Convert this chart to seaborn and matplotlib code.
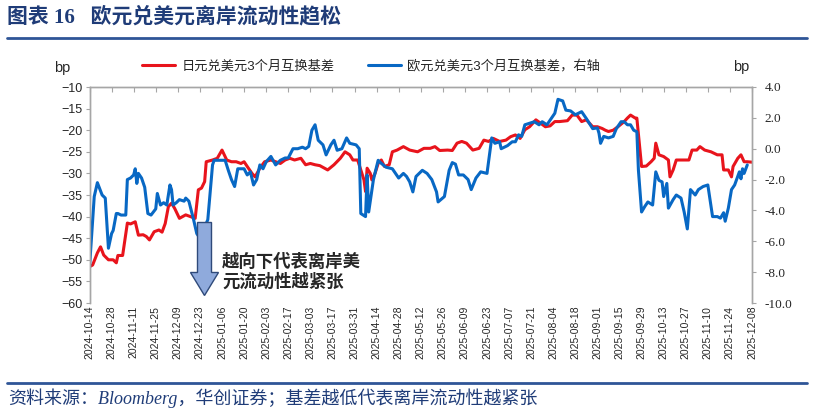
import pandas as pd
import matplotlib
matplotlib.use("Agg")
import matplotlib.pyplot as plt
import matplotlib.dates as mdates
from matplotlib.lines import Line2D
from matplotlib.patches import Polygon
from matplotlib.ticker import FuncFormatter, MultipleLocator
import seaborn as sns

# ====================== DATA ======================
jpy_dates = [
    "2024-10-14", "2024-10-16", "2024-10-19", "2024-10-21", "2024-10-23", "2024-10-26",
    "2024-10-29", "2024-10-31", "2024-11-01", "2024-11-04", "2024-11-07", "2024-11-09",
    "2024-11-12", "2024-11-14", "2024-11-17", "2024-11-19", "2024-11-21", "2024-11-24",
    "2024-11-27", "2024-11-29", "2024-12-01", "2024-12-03", "2024-12-05", "2024-12-07",
    "2024-12-10", "2024-12-14", "2024-12-17", "2024-12-20", "2024-12-22", "2024-12-24",
    "2024-12-26", "2024-12-27", "2024-12-31", "2025-01-03", "2025-01-06", "2025-01-09",
    "2025-01-12", "2025-01-15", "2025-01-18", "2025-01-20", "2025-01-22", "2025-01-25",
    "2025-01-27", "2025-01-30", "2025-02-02", "2025-02-06", "2025-02-09", "2025-02-12",
    "2025-02-15", "2025-02-18", "2025-02-21", "2025-02-25", "2025-02-28", "2025-03-03",
    "2025-03-06", "2025-03-09", "2025-03-12", "2025-03-14", "2025-03-18", "2025-03-22",
    "2025-03-25", "2025-03-28", "2025-03-30", "2025-04-02", "2025-04-04", "2025-04-06",
    "2025-04-07", "2025-04-08", "2025-04-10", "2025-04-11", "2025-04-13", "2025-04-15",
    "2025-04-17", "2025-04-19", "2025-04-22", "2025-04-24", "2025-04-27", "2025-05-01",
    "2025-05-05", "2025-05-10", "2025-05-14", "2025-05-18", "2025-05-21", "2025-05-24",
    "2025-05-29", "2025-06-01", "2025-06-04", "2025-06-07", "2025-06-10", "2025-06-14",
    "2025-06-18", "2025-06-21", "2025-06-24", "2025-06-27", "2025-07-01", "2025-07-05",
    "2025-07-08", "2025-07-11", "2025-07-14", "2025-07-17", "2025-07-20", "2025-07-24",
    "2025-07-27", "2025-07-30", "2025-08-02", "2025-08-05", "2025-08-08", "2025-08-13",
    "2025-08-16", "2025-08-19", "2025-08-22", "2025-08-25", "2025-08-29", "2025-09-01",
    "2025-09-04", "2025-09-06", "2025-09-08", "2025-09-11", "2025-09-14", "2025-09-18",
    "2025-09-20", "2025-09-22", "2025-09-25", "2025-09-26", "2025-09-29", "2025-10-02",
    "2025-10-05", "2025-10-07", "2025-10-08", "2025-10-10", "2025-10-13", "2025-10-16",
    "2025-10-17", "2025-10-19", "2025-10-21", "2025-10-24", "2025-10-27", "2025-10-29",
    "2025-10-31", "2025-11-03", "2025-11-05", "2025-11-08", "2025-11-12", "2025-11-16",
    "2025-11-19", "2025-11-20", "2025-11-23", "2025-11-25", "2025-11-26", "2025-11-29",
    "2025-12-01", "2025-12-03", "2025-12-05", "2025-12-08",
]
jpy_basis = [
    -51.6, -51.2, -48.4, -47, -48.9, -50,
    -50, -50.7, -49, -49, -41.5, -41.7,
    -41.2, -44.3, -44.2, -44.6, -45.4, -43.5,
    -43.1, -43.6, -41.6, -37.7, -36.9, -38.1,
    -40.4, -39.6, -40, -40.4, -33.8, -33.4,
    -31.9, -27.3, -26.9, -26.5, -24.6, -26.9,
    -27.3, -27.3, -27.7, -27.3, -28.4, -30,
    -30.8, -28.8, -27.3, -26.9, -27.3, -27.7,
    -26.9, -26.5, -26.9, -26.5, -28, -27.7,
    -28, -28.2, -28.8, -29.2, -28, -26.5,
    -25, -25.7, -26.9, -26.9, -29.2, -31.5,
    -34.2, -28.8, -30, -31.5, -30, -27.7,
    -26.9, -28.4, -28, -25, -24.6, -23.8,
    -24.6, -25, -24.2, -24.2, -23.8, -24.7,
    -24.6, -24.7, -23, -22.6, -23, -24.6,
    -24.2, -22.3, -22.6, -21.9, -22.6, -22.3,
    -21.5, -21.1, -21.9, -19.9, -19.2, -17.6,
    -18.4, -19.2, -19, -18, -18, -17.8,
    -16.5, -16.5, -18, -17.6, -19.2, -19.2,
    -19.6, -20, -20.3, -20, -19.2, -18,
    -17.2, -16.5, -17.2, -17.2, -28.4, -28.3,
    -27.3, -26.5, -23, -25.7, -26.1, -26.9,
    -30.8, -29.2, -26.9, -26.9, -26.9, -26.9,
    -24.6, -24.6, -23.8, -24.6, -25, -25.7,
    -25.7, -29.2, -29.2, -30.8, -28.4, -26.5,
    -25.7, -27.3, -27.3, -27.4,
]

eur_dates = [
    "2024-10-14", "2024-10-17", "2024-10-19", "2024-10-22", "2024-10-24", "2024-10-26",
    "2024-10-28", "2024-10-29", "2024-10-31", "2024-11-01", "2024-11-03", "2024-11-06",
    "2024-11-07", "2024-11-09", "2024-11-11", "2024-11-12", "2024-11-13", "2024-11-14",
    "2024-11-16", "2024-11-18", "2024-11-20", "2024-11-22", "2024-11-25", "2024-11-26",
    "2024-11-28", "2024-11-30", "2024-12-02", "2024-12-04", "2024-12-05", "2024-12-06",
    "2024-12-08", "2024-12-10", "2024-12-13", "2024-12-14", "2024-12-16", "2024-12-19",
    "2024-12-21", "2024-12-23", "2024-12-28", "2024-12-31", "2025-01-01", "2025-01-05",
    "2025-01-08", "2025-01-10", "2025-01-12", "2025-01-14", "2025-01-16", "2025-01-20",
    "2025-01-22", "2025-01-24", "2025-01-26", "2025-01-28", "2025-01-30", "2025-02-01",
    "2025-02-03", "2025-02-06", "2025-02-09", "2025-02-12", "2025-02-15", "2025-02-17",
    "2025-02-20", "2025-02-23", "2025-02-26", "2025-02-28", "2025-03-02", "2025-03-04",
    "2025-03-06", "2025-03-08", "2025-03-11", "2025-03-13", "2025-03-16", "2025-03-18",
    "2025-03-20", "2025-03-23", "2025-03-26", "2025-03-28", "2025-04-01", "2025-04-03",
    "2025-04-04", "2025-04-07", "2025-04-08", "2025-04-09", "2025-04-12", "2025-04-15",
    "2025-04-17", "2025-04-20", "2025-04-24", "2025-04-28", "2025-05-01", "2025-05-03",
    "2025-05-05", "2025-05-07", "2025-05-09", "2025-05-13", "2025-05-16", "2025-05-19",
    "2025-05-22", "2025-05-23", "2025-05-27", "2025-05-30", "2025-06-01", "2025-06-03",
    "2025-06-05", "2025-06-08", "2025-06-11", "2025-06-13", "2025-06-16", "2025-06-19",
    "2025-06-23", "2025-06-26", "2025-06-28", "2025-07-01", "2025-07-02", "2025-07-06",
    "2025-07-09", "2025-07-11", "2025-07-13", "2025-07-15", "2025-07-17", "2025-07-20",
    "2025-07-23", "2025-07-26", "2025-07-28", "2025-07-31", "2025-08-03", "2025-08-05",
    "2025-08-07", "2025-08-10", "2025-08-12", "2025-08-15", "2025-08-18", "2025-08-20",
    "2025-08-22", "2025-08-25", "2025-08-29", "2025-09-01", "2025-09-02", "2025-09-03",
    "2025-09-05", "2025-09-08", "2025-09-11", "2025-09-13", "2025-09-16", "2025-09-18",
    "2025-09-20", "2025-09-22", "2025-09-24", "2025-09-26", "2025-09-27", "2025-09-29",
    "2025-10-01", "2025-10-03", "2025-10-06", "2025-10-08", "2025-10-10", "2025-10-12",
    "2025-10-13", "2025-10-15", "2025-10-16", "2025-10-19", "2025-10-21", "2025-10-24",
    "2025-10-26", "2025-10-28", "2025-10-30", "2025-11-02", "2025-11-04", "2025-11-07",
    "2025-11-10", "2025-11-13", "2025-11-16", "2025-11-18", "2025-11-20", "2025-11-21",
    "2025-11-23", "2025-11-25", "2025-11-27", "2025-11-30", "2025-12-01", "2025-12-02",
    "2025-12-03", "2025-12-05",
]
eur_basis = [
    -7.7, -3.1, -2.2, -3.0, -3.2, -6.45,
    -5.5, -5.3, -4.2, -4.2, -4.3, -4.3,
    -2.0, -1.9, -1.7, -1.3, -2.25, -1.6,
    -1.9, -2.5, -4.2, -4.3, -3.9, -2.9,
    -3.65, -3.5, -3.65, -2.35, -2.65, -3.65,
    -3.5, -3.3, -3.4, -3.2, -3.4, -4.6,
    -5.5, -5.8, -4.6, -1.05, -0.75, -0.75,
    -0.75, -1.4, -2.0, -2.45, -1.3, -1.3,
    -1.7, -1.5, -2.35, -2.0, -1.05, -1.3,
    -0.85, -0.5, -1.05, -0.75, -0.6, -0.6,
    0.0, 0.0, 0.1, 0.0, 0.15, 1.2,
    1.55, 0.55, 0.25, -0.4, 0.25, 0.55,
    -0.1, 0.0, 0.7, 0.35, 0.25, 0.0,
    -4.2, -4.4, -1.7, -4.1, -2.0, -0.75,
    -0.95, -1.2, -1.3, -1.9, -1.6, -1.8,
    -2.15, -2.8, -1.8, -1.4, -1.6, -2.0,
    -2.8, -3.45, -3.1, -1.4, -0.9, -1.0,
    -1.7, -1.7, -2.0, -2.65, -1.9, -1.5,
    -1.6, 0.7, 0.35, 0.45, 0.0, 0.2,
    0.45, 0.45, 0.9, 0.8, 1.55, 1.65,
    1.75, 1.55, 1.75, 1.55, 2.0, 2.3,
    3.2, 3.1, 2.5, 2.45, 2.2, 2.3,
    2.4, 1.95, 1.3, 1.35, 1.0, 0.35,
    0.8, 0.7, 0.8, 1.3, 1.75, 1.75,
    1.55, 1.55, 1.2, 1.1, -1.4, -4.1,
    -3.75, -3.45, -3.65, -1.5, -2.05, -2.15,
    -3.1, -2.25, -3.85, -3.3, -3.0, -3.2,
    -4.1, -5.2, -2.65, -3.0, -2.65, -2.45,
    -2.35, -4.4, -4.4, -4.5, -4.15, -4.7,
    -3.85, -2.65, -2.35, -1.5, -1.95, -1.3,
    -1.6, -1.05,
]

jpy_label = "日元兑美元3个月互换基差"
eur_label = "欧元兑美元3个月互换基差，右轴"
title_text = "图表 16   欧元兑美元离岸流动性趋松"
note_lines = ["越向下代表离岸美", "元流动性越紧张"]
source_text = "资料来源：Bloomberg，华创证券；基差越低代表离岸流动性越紧张"

RED = "#E8141C"
BLUE = "#0868C4"
NAVY = "#1F3C78"
AXIS_GREY = "#A6A6A6"

W, H = 814, 416


def px(x, y):
    """pixel position (top-left origin) -> figure fraction"""
    return x / W, 1 - y / H


sns.set_style("white")
plt.rcParams["font.family"] = ["Liberation Sans", "Noto Sans CJK SC"]
plt.rcParams["axes.unicode_minus"] = True

jpy = pd.DataFrame({"date": pd.to_datetime(jpy_dates), "basis": jpy_basis})
eur = pd.DataFrame({"date": pd.to_datetime(eur_dates), "basis": eur_basis})

fig = plt.figure(figsize=(W / 100, H / 100), dpi=100)
x0, y1 = px(89.5, 87)
x1, y0 = px(752, 303)
ax = fig.add_axes([x0, y0, x1 - x0, y1 - y0])
ax2 = ax.twinx()

sns.lineplot(data=jpy, x="date", y="basis", ax=ax, color=RED, linewidth=2.2, legend=False)
sns.lineplot(data=eur, x="date", y="basis", ax=ax2, color=BLUE, linewidth=2.2, legend=False)

# ---- x axis: biweekly ticks, marks on top line, labels at the bottom
start, end = pd.Timestamp("2024-10-14"), pd.Timestamp("2025-12-08")
ax.set_xlim(start, end)
ax.set_xticks(pd.date_range(start, end, freq="14D"))
ax.xaxis.set_major_formatter(mdates.DateFormatter("%Y-%m-%d"))
ax.tick_params(axis="x", bottom=False, top=True, labelbottom=True, labeltop=False,
               direction="in", length=3.5, color=AXIS_GREY, labelsize=7.5,
               labelrotation=90, pad=2)
ax2.tick_params(axis="x", bottom=False, top=False)

# ---- left axis
ax.set_ylim(-60, -10)
ax.yaxis.set_major_locator(MultipleLocator(5))
ax.yaxis.set_major_formatter(FuncFormatter(lambda v, p: f"{v:.0f}".replace("-", "\u2212")))
ax.tick_params(axis="y", left=True, direction="out", length=3, color=AXIS_GREY,
               labelsize=9, pad=2)

# ---- right axis
ax2.set_ylim(-10, 4)
ax2.yaxis.set_major_locator(MultipleLocator(2))
ax2.yaxis.set_major_formatter(FuncFormatter(lambda v, p: f"{v:.1f}"))
ax2.tick_params(axis="y", right=True, direction="out", length=3, color=AXIS_GREY,
                labelsize=9.5, pad=6)
for lab in ax2.get_yticklabels():
    lab.set_family("Liberation Serif")

for a in (ax, ax2):
    a.set_xlabel("")
    a.set_ylabel("")
    a.grid(False)
    a.spines["bottom"].set_visible(False)
    for s in ("left", "right", "top"):
        a.spines[s].set_color(AXIS_GREY)
        a.spines[s].set_linewidth(1)

# ---- units
fig.text(*px(62, 68), "bp", ha="center", va="center", fontsize=10.5)
fig.text(*px(741, 67), "bp", ha="center", va="center", fontsize=10.5)

# ---- legend
handles = [Line2D([], [], color=RED, lw=2.2), Line2D([], [], color=BLUE, lw=2.2)]
fig.legend(handles, [jpy_label, eur_label], loc="center left",
           bbox_to_anchor=px(142, 66), ncol=2, frameon=False, fontsize=9.5,
           handlelength=2.5, handletextpad=0.5, columnspacing=2.5,
           borderpad=0, borderaxespad=0)

# ---- title and rules
fig.text(*px(7, 17.5), title_text, ha="left", va="center", fontsize=15,
         fontweight="bold", color=NAVY, family=["Liberation Serif", "Noto Sans CJK SC"])
for yy in (37.5, 382.5):
    fig.add_artist(Line2D([7 / W, 807 / W], [1 - yy / H] * 2, transform=fig.transFigure,
                          color="#2F5597", lw=2))

# ---- arrow + note
arrow_pts = [px(197.5, 222.5), px(211.5, 222.5), px(211.5, 272.5), px(218.5, 272.5),
             px(204.5, 295.5), px(190.5, 272.5), px(197.5, 272.5)]
fig.patches.append(Polygon(arrow_pts, closed=True, transform=fig.transFigure,
                           facecolor="#8FAADC", edgecolor="#2F4A7A", lw=1, zorder=5))
for line, yy in zip(note_lines, (261.5, 282)):
    fig.text(*px(222, yy), line, ha="left", va="center", fontsize=12.5,
             fontweight="bold", family=["Noto Sans CJK SC"])

# ---- source
fig.text(*px(8, 398), source_text, ha="left", va="center", fontsize=13,
         style="italic", color=NAVY, family=["Liberation Serif", "Noto Sans CJK SC"])

fig.savefig("out.png", dpi=100)
